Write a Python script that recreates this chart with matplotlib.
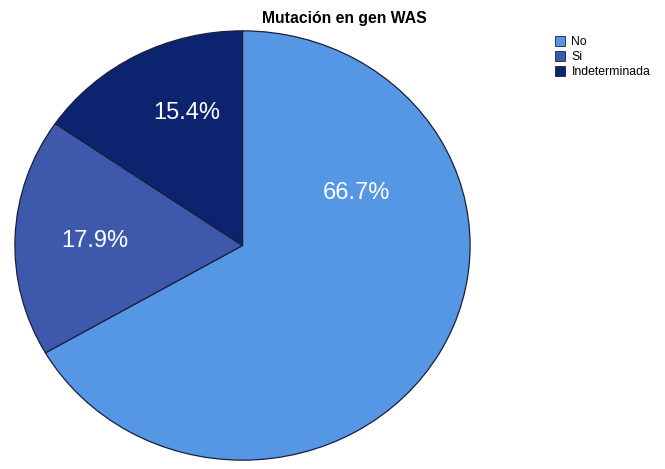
import matplotlib
matplotlib.use("Agg")
import matplotlib.pyplot as plt
from matplotlib.patches import Patch

categories = ["No", "Si", "Indeterminada"]
counts = [26, 7, 6]
percent_labels = ["66.7%", "17.9%", "15.4%"]
colors = ["#5596E5", "#3E58AC", "#0C2470"]

plt.rcParams["font.family"] = ["Liberation Sans", "DejaVu Sans"]

W, H = 665, 469
fig = plt.figure(figsize=(W / 100, H / 100), dpi=100)

# pie occupies an ellipse-shaped region (x 14..471, y 30..461 in pixels)
left, right, top, bottom = 14, 471, 30, 461
ax = fig.add_axes([left / W, (H - bottom) / H, (right - left) / W, (bottom - top) / H])

wedges, _ = ax.pie(
    counts,
    colors=colors,
    startangle=90,
    counterclock=False,
    radius=1.0,
    wedgeprops=dict(edgecolor="#1a1f3a", linewidth=0.9),
)
ax.set_xlim(-1.004, 1.004)
ax.set_ylim(-1.004, 1.004)
ax.set_aspect("auto")
ax.axis("off")

# percentage labels inside the slices
label_xy = [(0.501, 0.244), (-0.648, 0.020), (-0.243, 0.615)]
for (x, y), txt in zip(label_xy, percent_labels):
    ax.text(x, y, txt, color="white", fontsize=17, ha="center", va="center")

fig.text(344.5 / W, 1 - 18 / H, "Mutación en gen WAS", fontsize=11.3,
         fontweight="bold", ha="center", va="center")

handles = [Patch(facecolor=c, edgecolor="#1a1f3a", linewidth=0.6) for c in colors]
fig.legend(
    handles, categories,
    loc="upper left",
    bbox_to_anchor=(555 / W, 1 - 36 / H),
    frameon=False,
    fontsize=8.8,
    handlelength=0.8,
    handleheight=0.85,
    handletextpad=0.55,
    labelspacing=0.25,
    borderpad=0,
    borderaxespad=0,
)

fig.savefig("out.png", dpi=100)
